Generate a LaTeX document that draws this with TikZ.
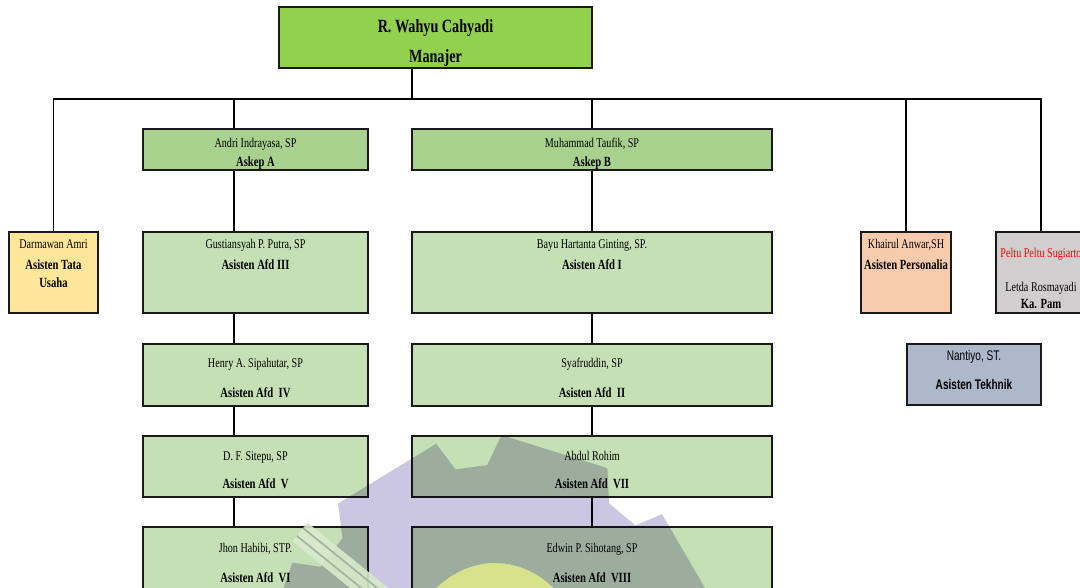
\documentclass[tikz,border=0pt]{standalone}
\usepackage{fontspec}
\setmainfont{Liberation Serif}[FakeStretch=0.76]
\newfontfamily\narrowsans{Liberation Sans}[FakeStretch=0.72]
\usetikzlibrary{fit}

\definecolor{mgrgreen}{HTML}{92D050}
\definecolor{askgreen}{HTML}{A9D18E}
\definecolor{afdgreen}{HTML}{C5E0B4}
\definecolor{tuyellow}{HTML}{FFE699}
\definecolor{perspeach}{HTML}{F8CBAD}
\definecolor{pamgrey}{HTML}{D0CECE}
\definecolor{tekblue}{HTML}{ADB9CA}
\definecolor{gearlav}{HTML}{CBC6E1}
\definecolor{logoyellow}{HTML}{F0E650}
\definecolor{leafgreen}{HTML}{D8EACB}
\definecolor{leafline}{HTML}{A3B4A2}

\tikzset{
  box/.style={draw=black!90, line width=1.1pt, inner sep=0pt, fit={#1}},
  link/.style={line width=0.8pt},
  nm/.style={anchor=base, inner sep=0pt, font=\fontsize{10}{12}\selectfont},
  ttl/.style={anchor=base, inner sep=0pt, font=\fontsize{10.5}{12}\selectfont\bfseries},
  big/.style={anchor=base, inner sep=0pt, font=\fontsize{14}{16}\selectfont\bfseries},
}

\begin{document}
\begin{tikzpicture}[x=0.75pt,y=0.75pt,yscale=-1,xscale=1]
\useasboundingbox (0,0) rectangle (1080,587);
\clip (0,0) rectangle (1080,587);

% boxes
\node[box={(279,7) (592,68)}, fill=mgrgreen] (mgr) {};
\node[box={(143,129) (368,170)}, fill=askgreen] (askepa) {};
\node[box={(412,129) (772,170)}, fill=askgreen] (askepb) {};
\node[box={(9,232) (98,313)}, fill=tuyellow] (tu) {};
\node[box={(143,232) (368,313)}, fill=afdgreen] (afd3) {};
\node[box={(412,232) (772,313)}, fill=afdgreen] (afd1) {};
\node[box={(143,344) (368,406)}, fill=afdgreen] (afd4) {};
\node[box={(412,344) (772,406)}, fill=afdgreen] (afd2) {};
\node[box={(143,436) (368,497)}, fill=afdgreen] (afd5) {};
\node[box={(412,436) (772,497)}, fill=afdgreen] (afd7) {};
\node[box={(143,527) (368,610)}, fill=afdgreen] (afd6) {};
\node[box={(412,527) (772,610)}, fill=afdgreen] (afd8) {};
\node[box={(861,232) (951,313)}, fill=perspeach] (pers) {};
\node[box={(996,232) (1086,313)}, fill=pamgrey] (pam) {};
\node[box={(907,344) (1041,405)}, fill=tekblue] (tek) {};

% connectors
\coordinate (hub) at (412,99);
\coordinate (colA) at (234,99);
\draw[link] (mgr.south -| hub) -- (hub);
\draw[link] (tu.north) -- (tu.north |- hub) -- (pam.north |- hub) -- (pam.north);
\draw[link] (colA) -- (colA |- askepa.north);
\draw[link] (colA |- askepa.south) -- (colA |- afd3.north);
\foreach \u/\l in {afd3/afd4, afd4/afd5, afd5/afd6}
  \draw[link] (colA |- \u.south) -- (colA |- \l.north);
\draw[link] (askepb.north |- hub) -- (askepb.north);
\foreach \u/\l in {askepb/afd1, afd1/afd2, afd2/afd7, afd7/afd8}
  \draw[link] (\u.south) -- (\l.north);
\draw[link] (pers.north |- hub) -- (pers.north);

% texts
\node[big] (mgr-n) at (435.5,32) {R. Wahyu Cahyadi};
\node[big] (mgr-r) at (435.5,62) {Manajer};
\node[nm]  (askepa-n) at (255.5,147) {Andri Indrayasa, SP};
\node[ttl] (askepa-r) at (255.5,166) {Askep A};
\node[nm]  (askepb-n) at (592,147) {Muhammad Taufik, SP};
\node[ttl] (askepb-r) at (592,166) {Askep B};
\node[nm]  (tu-n) at (53.5,248) {Darmawan Amri};
\node[ttl] (tu-r1) at (53.5,269) {Asisten Tata};
\node[ttl] (tu-r2) at (53.5,287) {Usaha};
\node[nm]  (afd3-n) at (255.5,248) {Gustiansyah P. Putra, SP};
\node[ttl] (afd3-r) at (255.5,269) {Asisten Afd III};
\node[nm]  (afd1-n) at (592,248) {Bayu Hartanta Ginting, SP.};
\node[ttl] (afd1-r) at (592,269) {Asisten Afd I};
\node[nm]  (afd4-n) at (255.5,367) {Henry A. Sipahutar, SP};
\node[ttl] (afd4-r) at (255.5,397) {Asisten Afd\ \ IV};
\node[nm]  (afd2-n) at (592,367) {Syafruddin, SP};
\node[ttl] (afd2-r) at (592,397) {Asisten Afd\ \ II};
\node[nm]  (afd5-n) at (255.5,460) {D. F. Sitepu, SP};
\node[ttl] (afd5-r) at (255.5,488) {Asisten Afd\ \ V};
\node[nm]  (afd7-n) at (592,460) {Abdul Rohim};
\node[ttl] (afd7-r) at (592,488) {Asisten Afd\ \ VII};
\node[nm]  (afd6-n) at (255.5,552) {Jhon Habibi, STP.};
\node[ttl] (afd6-r) at (255.5,582) {Asisten Afd\ \ VI};
\node[nm]  (afd8-n) at (592,552) {Edwin P. Sihotang, SP};
\node[ttl] (afd8-r) at (592,582) {Asisten Afd\ \ VIII};
\node[nm]  (pers-n) at (906,248) {Khairul Anwar,SH};
\node[ttl] (pers-r) at (906,269) {Asisten Personalia};
\node[nm, text=red] (pam-n1) at (1041,257) {Peltu Peltu Sugiarto};
\node[nm]  (pam-n2) at (1041,291) {Letda Rosmayadi};
\node[ttl] (pam-r) at (1041,308) {Ka. Pam};
\node[nm, font=\fontsize{10.5}{12}\selectfont\narrowsans] (tek-n) at (974,360) {Nantiyo, ST.};
\node[ttl, font=\fontsize{10.5}{12}\selectfont\narrowsans\bfseries] (tek-r) at (974,389) {Asisten Tekhnik};

% watermark
\begin{scope}[shift={(495,750)}, xscale=0.8]
  \begin{scope}[blend mode=multiply]
    \fill[gearlav, even odd rule] ({-60}:285)
      \foreach \a in {76,116,...,396} {
        -- ({-\a+16}:285) -- ({-\a+12.5}:315) -- ({-\a-12.5}:315) -- ({-\a-16}:285)
      } -- cycle
      (0,-67) circle (120);
  \end{scope}
  \fill[logoyellow, opacity=0.4] (0,-67) circle (120);
\end{scope}
\draw[leafgreen, opacity=0.9, line width=18pt] (300,532) -- (410,621);
\foreach \k in {-1,1}
  \draw[leafline, line width=1.3pt] ({300-5*0.629*\k},{532+5*0.777*\k}) -- ({410-5*0.629*\k},{621+5*0.777*\k});
\end{tikzpicture}
\end{document}
